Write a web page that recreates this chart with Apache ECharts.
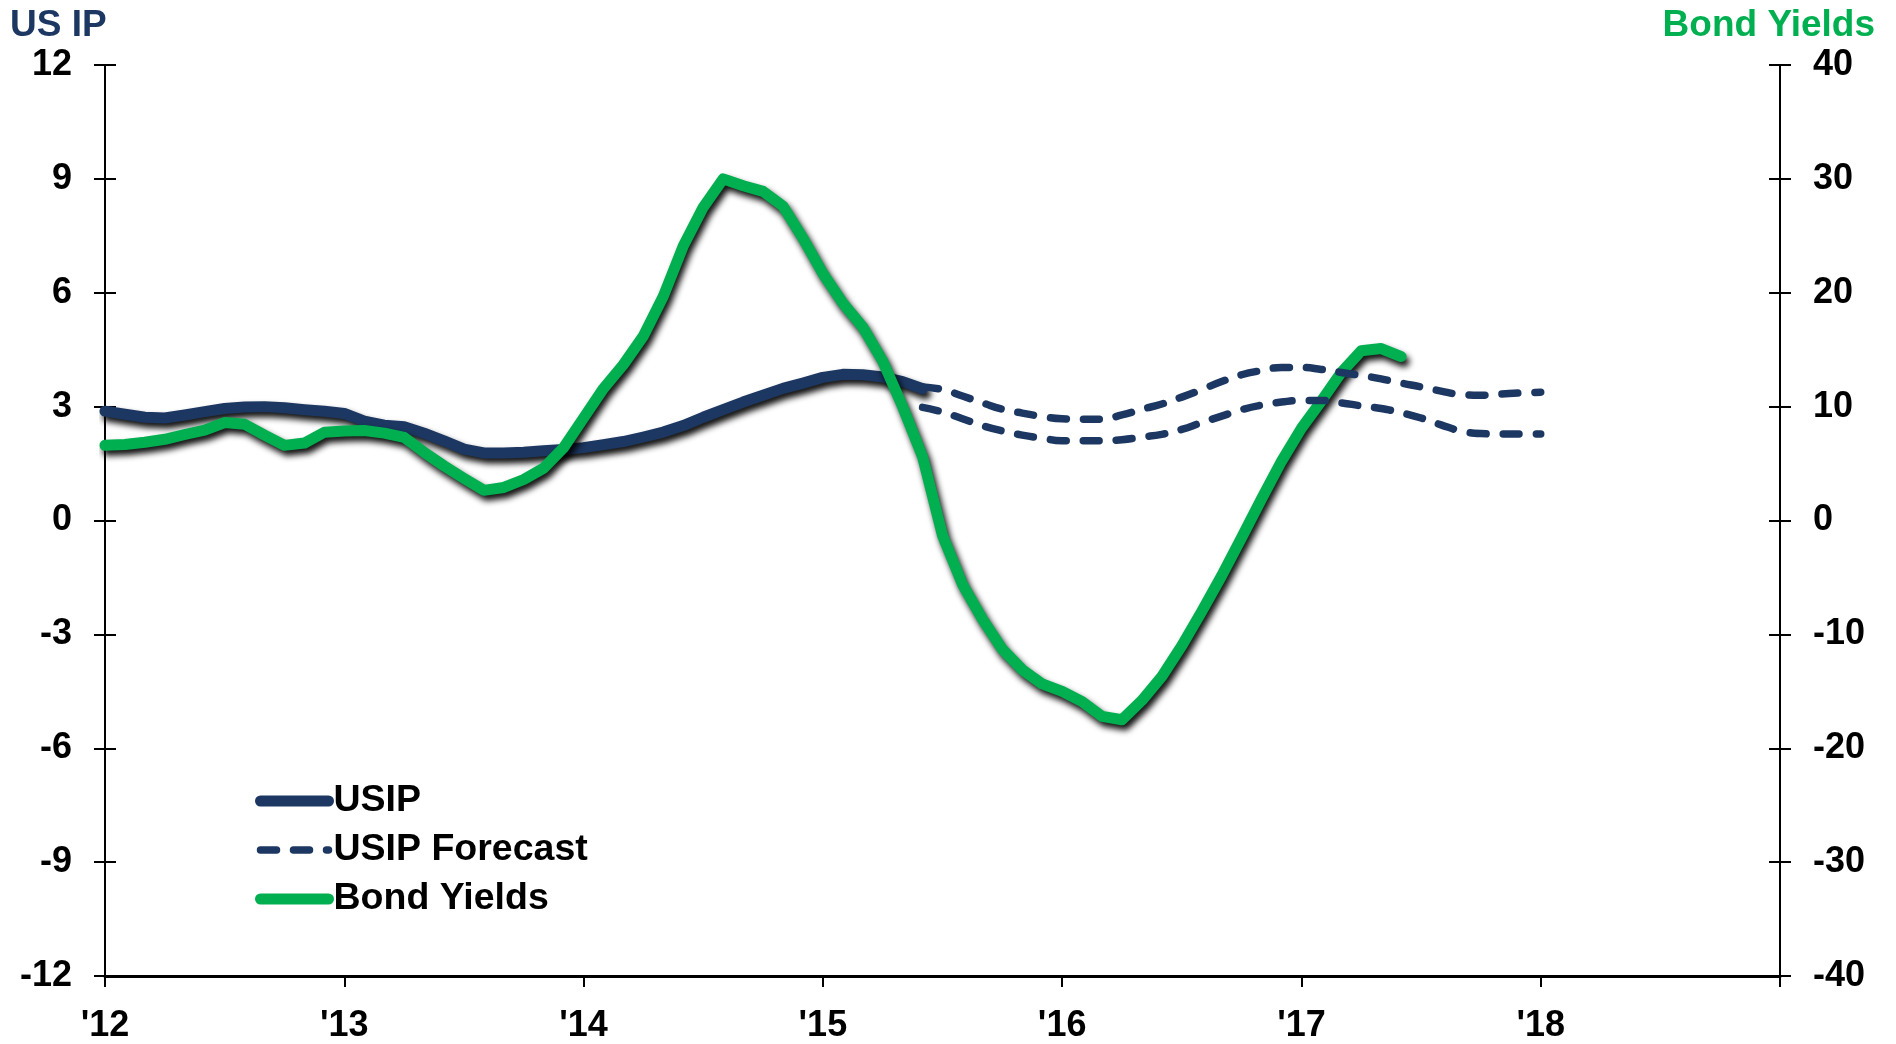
<!DOCTYPE html>
<html>
<head>
<meta charset="utf-8">
<script src="https://cdn.jsdelivr.net/npm/echarts@6/dist/echarts.min.js"></script>
<style>
  html, body { margin: 0; padding: 0; background: #ffffff; }
  #chart { width: 1896px; height: 1044px; }
</style>
</head>
<body>
<div id="chart"></div>
<script>
// ---- data (monthly observations; each array starts at its [year, month]) ----
const usipStart = [2012, 1];
const usip = [
  2.88, 2.80, 2.72, 2.70, 2.78, 2.87, 2.95, 2.99, 3.00, 2.97, 2.92, 2.88,
  2.82, 2.62, 2.51, 2.47, 2.30, 2.10, 1.88, 1.78, 1.78, 1.80, 1.84, 1.87,
  1.92, 2.00, 2.08, 2.20, 2.33, 2.50, 2.72, 2.92, 3.12, 3.30, 3.48, 3.62,
  3.77, 3.85, 3.84, 3.78, 3.66, 3.47
];

const forecastStart = [2015, 6];
const usipForecastHigh = [
  3.52, 3.45, 3.28, 3.10, 2.93, 2.83, 2.74, 2.68, 2.67, 2.67, 2.78, 2.93,
  3.07, 3.25, 3.45, 3.66, 3.84, 3.95, 4.03, 4.03, 3.98, 3.90, 3.82, 3.73,
  3.62, 3.52, 3.41, 3.32, 3.30, 3.33, 3.36, 3.38
];
const usipForecastLow = [
  2.98, 2.86, 2.68, 2.50, 2.36, 2.25, 2.17, 2.10, 2.10, 2.10, 2.13, 2.20,
  2.27, 2.40, 2.58, 2.75, 2.92, 3.04, 3.12, 3.16, 3.16, 3.10, 3.02, 2.95,
  2.84, 2.70, 2.52, 2.36, 2.29, 2.28, 2.28, 2.28
];

const bondStart = [2012, 1];
const bondYields = [
  6.60, 6.67, 6.87, 7.13, 7.55, 7.93, 8.60, 8.45, 7.50, 6.60, 6.80, 7.75,
  7.85, 7.90, 7.67, 7.30, 6.00, 4.80, 3.70, 2.65, 2.90, 3.60, 4.60, 6.40,
  9.00, 11.6, 13.7, 16.2, 19.7, 24.1, 27.5, 30.0, 29.4, 28.9, 27.6, 24.8,
  21.7, 19.1, 17.0, 14.0, 10.0, 5.60, -1.30, -5.60, -8.65, -11.3, -13.1, -14.35,
  -15.0, -15.9, -17.2, -17.5, -15.8, -13.7, -11.0, -8.00, -4.85, -1.50, 1.90, 5.20,
  8.10, 10.5, 13.0, 14.9, 15.1, 14.4
];

const yearTicks = [2012, 2013, 2014, 2015, 2016, 2017, 2018, 2019];
const yearLabels = ["'12", "'13", "'14", "'15", "'16", "'17", "'18", ""];

// ---- styling ----
const FONT = '"Liberation Sans", Arial, Helvetica, sans-serif';
const NAVY = '#1c3761';
const GREEN = '#00b050';
const AXIS = '#000000';
const DASH = [16, 17];

// month index -> decimal year on the value x-axis
function toPoints(start, values) {
  return values.map((v, i) => [start[0] + (start[1] - 1 + i) / 12, v]);
}

const dropShadow = {
  shadowColor: 'rgba(0,0,0,0.95)',
  shadowBlur: 6,
  shadowOffsetX: 3,
  shadowOffsetY: 5
};

const labelFont = { color: '#000', fontFamily: FONT, fontWeight: 'bold', fontSize: 36 };

function yAxisBase(pos, min, max, step) {
  return {
    type: 'value', position: pos, min: min, max: max, interval: step,
    splitLine: { show: false }
  };
}

const chart = echarts.init(document.getElementById('chart'), null, { renderer: 'canvas' });

chart.setOption({
  animation: false,
  backgroundColor: '#ffffff',
  title: [
    { text: 'US IP', left: 10, top: 7, padding: 0,
      textStyle: { color: NAVY, fontFamily: FONT, fontWeight: 'bold', fontSize: 37 } },
    { text: 'Bond Yields', right: 21, top: 7, padding: 0,
      textStyle: { color: GREEN, fontFamily: FONT, fontWeight: 'bold', fontSize: 37 } }
  ],
  grid: { left: 105, right: 116, top: 65, bottom: 57, containLabel: false },
  legend: {
    orient: 'vertical', left: 255, top: 782, padding: 0,
    itemWidth: 68, itemHeight: 12, itemGap: 11,
    textStyle: { color: '#000', fontFamily: FONT, fontWeight: 'bold', fontSize: 37.5 },
    lineStyle: { shadowBlur: 0, shadowOffsetX: 0, shadowOffsetY: 0, shadowColor: 'rgba(0,0,0,0)' },
    itemStyle: { opacity: 0 },
    data: [
      { name: 'USIP', lineStyle: { width: 11, color: NAVY, type: 'solid', cap: 'round' } },
      { name: 'USIP Forecast', lineStyle: { width: 7.5, color: NAVY, type: DASH, cap: 'round' } },
      { name: 'Bond Yields', lineStyle: { width: 11, color: GREEN, type: 'solid', cap: 'round' } }
    ]
  },
  xAxis: {
    type: 'value', min: 2012, max: 2019, interval: 1,
    axisLine: { show: true, onZero: false, lineStyle: { color: AXIS, width: 3 } },
    axisTick: { show: true, inside: false, length: 11, lineStyle: { color: AXIS, width: 2 } },
    axisLabel: Object.assign({}, labelFont, {
      margin: 32,
      formatter: v => { const k = yearTicks.indexOf(Math.round(v)); return k >= 0 ? yearLabels[k] : ''; }
    }),
    splitLine: { show: false }
  },
  yAxis: [
    Object.assign(yAxisBase('left', -12, 12, 3), {
      axisLine: { show: true, onZero: false, lineStyle: { color: AXIS, width: 2 } },
      axisTick: { show: true, inside: false, length: 11, lineStyle: { color: AXIS, width: 2 } },
      axisLabel: Object.assign({}, labelFont, { margin: 33 })
    }),
    Object.assign(yAxisBase('right', -40, 40, 10), {
      axisLine: { show: true, onZero: false, lineStyle: { color: AXIS, width: 2 } },
      axisTick: { show: true, inside: false, length: 11, lineStyle: { color: AXIS, width: 2 } },
      axisLabel: Object.assign({}, labelFont, { margin: 33 })
    }),
    // inner halves of the crossing tick marks
    Object.assign(yAxisBase('left', -12, 12, 3), {
      axisLine: { show: false },
      axisTick: { show: true, inside: true, length: 11, lineStyle: { color: AXIS, width: 2 } },
      axisLabel: { show: false }
    }),
    Object.assign(yAxisBase('right', -40, 40, 10), {
      axisLine: { show: false },
      axisTick: { show: true, inside: true, length: 11, lineStyle: { color: AXIS, width: 2 } },
      axisLabel: { show: false }
    })
  ],
  series: [
    {
      name: 'USIP', type: 'line', yAxisIndex: 0, symbol: 'none', smooth: false, z: 2,
      data: toPoints(usipStart, usip),
      lineStyle: Object.assign({ color: NAVY, width: 11, cap: 'round', join: 'round' }, dropShadow)
    },
    {
      name: 'Bond Yields', type: 'line', yAxisIndex: 1, symbol: 'none', smooth: false, z: 3,
      data: toPoints(bondStart, bondYields),
      lineStyle: Object.assign({ color: GREEN, width: 11, cap: 'round', join: 'round' }, dropShadow)
    },
    {
      name: 'USIP Forecast', type: 'line', yAxisIndex: 0, symbol: 'none', smooth: true, z: 4,
      data: toPoints(forecastStart, usipForecastHigh),
      lineStyle: { color: NAVY, width: 7.5, type: DASH, cap: 'round', join: 'round' }
    },
    {
      name: 'USIP Forecast', type: 'line', yAxisIndex: 0, symbol: 'none', smooth: true, z: 4,
      data: toPoints(forecastStart, usipForecastLow),
      lineStyle: { color: NAVY, width: 7.5, type: DASH, cap: 'round', join: 'round' }
    }
  ]
});
</script>
</body>
</html>
